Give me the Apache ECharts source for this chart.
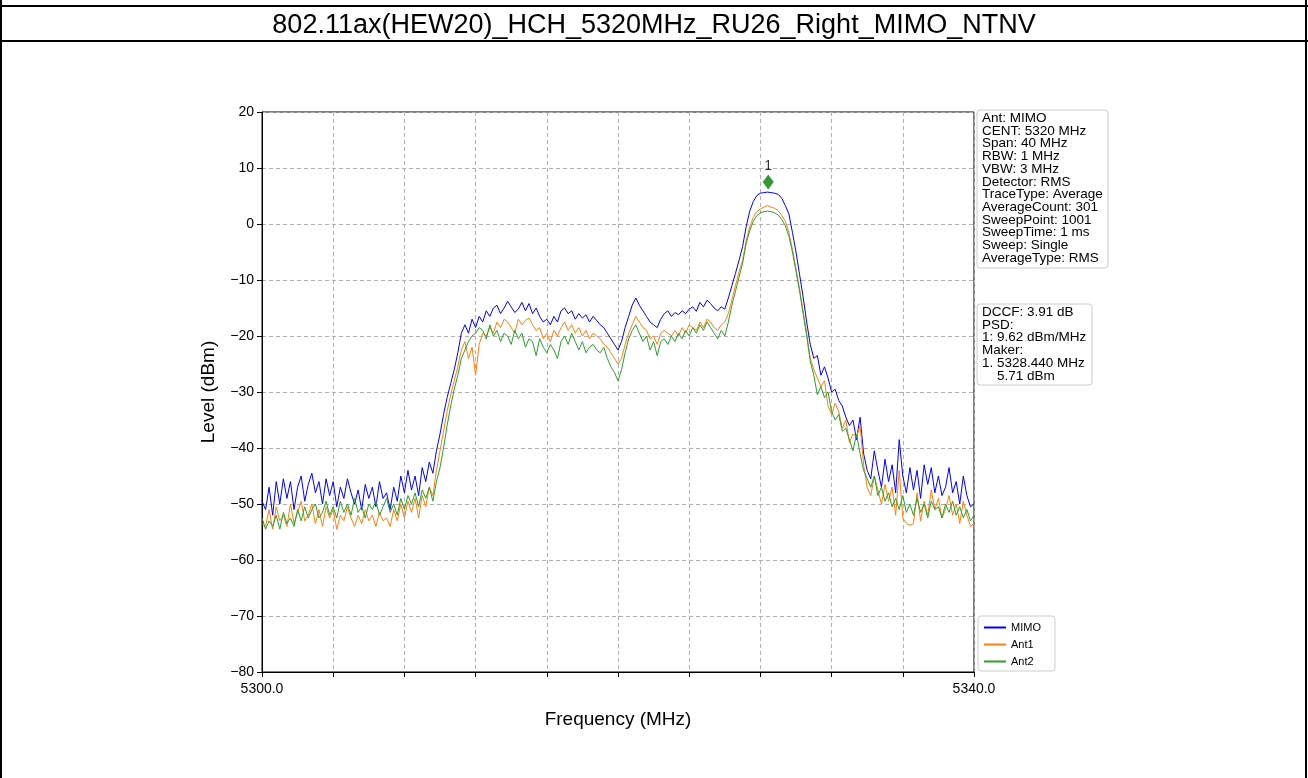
<!DOCTYPE html>
<html>
<head>
<meta charset="utf-8">
<script src="https://cdn.jsdelivr.net/npm/echarts@6/dist/echarts.min.js"></script>
<style>
html,body{margin:0;padding:0;background:#fff;}
#chart{width:1308px;height:778px;}
</style>
</head>
<body>
<div id="chart"></div>
<script>
const TITLE = '802.11ax(HEW20)_HCH_5320MHz_RU26_Right_MIMO_NTNV';
const F_START = 5300.0;
const F_STEP = 0.2;
const X_TICKS = [5300.0, 5340.0];
const Y_MIN = -80, Y_MAX = 20;

const mimo = [
-49.5,-51,-47,-52,-46,-50,-45.5,-49,-46,-51,
-47,-45,-49.5,-46.5,-44.5,-48,-46,-50,-45.5,-48.5,
-46,-50.5,-47,-49,-45.5,-48,-50,-47.5,-51,-46.5,
-49,-47,-50.5,-46,-49,-48,-51,-47,-49.5,-45,
-48,-44,-47.5,-45,-48.5,-43.5,-46,-42.5,-44.5,-40.5,
-37.5,-34,-31,-28.5,-26,-23,-19.5,-18,-19.5,-17,
-18.5,-16.5,-17.5,-15.5,-16.5,-15,-14.5,-16,-15,-13.8,
-14.8,-15.8,-15.2,-14,-15.5,-14.2,-16,-15,-16.5,-17.5,
-17,-18,-16.5,-17.5,-15.5,-15,-16,-15.5,-17,-16,
-16.8,-16.2,-17.5,-16.5,-17.2,-18,-18.5,-19.5,-20.5,-21.5,
-22.5,-21,-18.5,-16.5,-14.5,-13.2,-14.5,-15.5,-16.5,-17.5,
-18,-18.5,-17,-16,-15.5,-16.5,-15.8,-16.2,-15.5,-16,
-15.2,-14.8,-15.6,-14,-14.8,-13.6,-14.2,-15,-15.5,-14.8,
-15.2,-13.2,-11,-8.8,-6.5,-4,-0.5,2.3,4,5.1,
5.5,5.6,5.7,5.6,5.5,5.3,4.6,3.3,1.8,-1.5,
-5,-9,-13,-17.5,-21.5,-24,-23.5,-27,-25.5,-27.5,
-30,-29.5,-31.5,-32.5,-34.5,-36,-35,-38.5,-34.5,-41,
-44,-45.5,-40.5,-44,-47,-42,-46,-43,-48,-38.5,
-45,-48,-43.5,-47.5,-44,-49,-43,-46.5,-43.5,-48,
-45,-48.5,-47,-43.5,-48,-46,-50,-45,-48.5,-50.5,
-50
];

const ant1 = [
-53.5,-54,-51,-54.5,-50.5,-53,-52,-54,-50,-53.5,
-51.5,-49.5,-53,-52,-50,-53.5,-51,-54,-50.5,-52.5,
-51,-54.5,-52,-53,-50.5,-52.5,-54,-52,-53.5,-51,
-53,-52,-54,-51.5,-53,-52.5,-54,-51,-53,-50,
-52.5,-49.5,-51.5,-49,-52.5,-48.5,-50.5,-47,-48.5,-44,
-40.5,-37,-33.5,-30.5,-28,-25.5,-22.5,-21,-24,-22,
-27,-21.5,-19.5,-20,-18.5,-19.5,-17.5,-18.5,-17,-17.5,
-18.5,-19.5,-17,-18,-17.2,-16.8,-18,-19,-18.5,-20.5,
-19.5,-21,-19,-20,-18.5,-17.5,-19,-18,-19.5,-18.5,
-20,-19,-20.5,-19.5,-20,-20.5,-21.5,-22,-23,-24,
-25,-24,-21.5,-19.5,-18,-16.5,-17.5,-18.5,-19,-20.5,
-20,-21.5,-19.5,-19,-19.5,-20,-19,-20,-18.5,-19.5,
-18,-18.5,-19,-17.5,-18.5,-17,-17.5,-18.5,-19,-18,
-17.5,-16,-13.5,-11,-8.5,-6.5,-3,-0.5,1.2,2.2,
2.7,3,3.3,3,2.8,2.4,1.5,0.5,-1.5,-4.5,
-8,-11.5,-15.5,-19.5,-24,-26,-27.5,-29,-28,-32.5,
-34,-32,-33.5,-36.5,-35,-39,-37.5,-38,-36,-43,
-47,-48.5,-45,-47.5,-50,-46.5,-49.5,-47,-52,-44,
-52.5,-53.5,-53.8,-53.5,-48,-53,-49.5,-52,-47.5,-51,
-49,-52.5,-51,-48.5,-52,-50,-53.5,-49.5,-52,-54,
-53.5
];

const ant2 = [
-52.5,-54.5,-53,-54,-52,-54.5,-51.5,-53.5,-52.5,-54,
-51,-53,-50.5,-52.5,-51,-50,-52.5,-51.5,-49.5,-52,
-50.5,-52.5,-49.5,-51.5,-50,-52,-49,-51.5,-50.5,-52.5,
-50,-51,-49.5,-52,-50.5,-49,-51.5,-50,-52,-49,
-51,-48.5,-50,-48,-50.5,-47.5,-49,-47,-49.5,-46,
-43.5,-40,-36,-32.5,-29.5,-27,-24,-22.5,-21,-20,
-19.5,-18.5,-19,-20.5,-18,-20,-19,-21,-19.5,-20,
-21.5,-19,-20.5,-19.5,-22,-20.5,-21,-23.5,-20.5,-22,
-23,-21.5,-22.5,-24,-21,-20,-21.5,-19.5,-21,-22.5,
-21,-23,-22,-21.5,-22.5,-23,-22,-24,-25.5,-26.5,
-28,-26,-23,-20.5,-19,-18,-19.5,-21,-20,-22.5,
-21,-23.5,-21,-20.5,-21.5,-20,-21,-19.5,-20.5,-19,
-20,-18.5,-19.5,-18,-19,-17.5,-18.5,-19.5,-20.5,-19,
-20,-17.5,-14.5,-12,-9.5,-7,-3.5,-1.2,0.5,1.5,
2,2.2,2.3,2.2,2,1.6,0.8,-0.3,-2.2,-5,
-8.5,-12,-16,-20,-24.5,-27,-30.5,-29,-31,-30,
-33.5,-35,-34,-37,-36.5,-38.5,-40.5,-37.5,-41,-44,
-45.5,-47,-45,-48.5,-47,-49.5,-48,-50.5,-49,-51,
-48.5,-51.5,-50,-52,-49,-51.5,-50,-52.5,-49.5,-51,
-50.5,-52.5,-50,-51.5,-49.5,-52,-50.5,-52.5,-51,-53,
-52
];

const MARKER = [5328.44, 5.71];
const INFO_LINES = ['Ant: MIMO','CENT: 5320 MHz','Span: 40 MHz','RBW: 1 MHz','VBW: 3 MHz','Detector: RMS','TraceType: Average','AverageCount: 301','SweepPoint: 1001','SweepTime: 1 ms','Sweep: Single','AverageType: RMS'];
const RESULT_LINES = ['DCCF: 3.91 dB','PSD:','1: 9.62 dBm/MHz','Maker:','1. 5328.440 MHz','    5.71 dBm'];

const toPairs = arr => arr.map((v,i)=>[+(F_START + i*F_STEP).toFixed(2), v]);
const FONT = 'Liberation Sans, Arial, sans-serif';
const minus = s => String(s).replace('-', '\u2212');

const chart = echarts.init(document.getElementById('chart'), null, {renderer:'canvas'});
const option = {
  animation:false,
  backgroundColor:'#fff',
  textStyle:{fontFamily:FONT},
  grid:{left:262, right:334, top:112, bottom:106, show:true, borderColor:'#000', borderWidth:1, backgroundColor:'transparent'},
  xAxis:{
    type:'value', min:5300, max:5340, interval:4,
    name:'Frequency (MHz)', nameLocation:'middle', nameGap:38,
    nameTextStyle:{fontSize:19, color:'#000', fontFamily:FONT},
    axisLine:{show:true, onZero:false, lineStyle:{color:'#000', width:1}},
    axisTick:{show:true, length:5, lineStyle:{color:'#000'}},
    axisLabel:{fontSize:14, color:'#000', margin:10, fontFamily:FONT,
      formatter:v => X_TICKS.some(t=>Math.abs(t-v)<1e-6) ? v.toFixed(1) : '' ,
      showMinLabel:true, showMaxLabel:true},
    splitLine:{show:true, lineStyle:{color:'#b0b0b0', type:[4,3], width:1}}
  },
  yAxis:{
    type:'value', min:Y_MIN, max:Y_MAX, interval:10,
    name:'Level (dBm)', nameLocation:'middle', nameGap:44, nameRotate:90,
    nameTextStyle:{fontSize:19, color:'#000', fontFamily:FONT},
    axisLine:{show:true, onZero:false, lineStyle:{color:'#000', width:1}},
    axisTick:{show:true, length:5, lineStyle:{color:'#000'}},
    axisLabel:{fontSize:14, color:'#000', margin:8, fontFamily:FONT, formatter:v=>minus(v)},
    splitLine:{show:true, lineStyle:{color:'#b0b0b0', type:[4,3], width:1}}
  },
  legend:{
    data:['MIMO','Ant1','Ant2'], orient:'vertical', left:978, top:616,
    itemWidth:22, itemHeight:2, itemGap:6, icon:'rect',
    textStyle:{fontSize:11, color:'#000', fontFamily:FONT},
    borderColor:'#cccccc', borderWidth:1, borderRadius:3, padding:[6,14,4,6],
    backgroundColor:'#fff'
  },
  series:[
    {name:'MIMO', type:'line', data:toPairs(mimo), showSymbol:false, symbol:'none', lineStyle:{color:'#0000ff', width:1}, itemStyle:{color:'#0000ff'}},
    {name:'Ant1', type:'line', data:toPairs(ant1), showSymbol:false, symbol:'none', lineStyle:{color:'#ff7f0e', width:1}, itemStyle:{color:'#ff7f0e'}},
    {name:'Ant2', type:'line', data:toPairs(ant2), showSymbol:false, symbol:'none', lineStyle:{color:'#2ca02c', width:1}, itemStyle:{color:'#2ca02c'}},
    {name:'Marker', type:'scatter', data:[MARKER], symbol:'diamond', symbolSize:[11,15], symbolOffset:[0,-10],
      itemStyle:{color:'#007f00'},
      label:{show:true, formatter:'1', position:'top', distance:1, fontSize:14, color:'#000', fontFamily:FONT}, z:5}
  ],
  graphic:[
    {type:'line', shape:{x1:0,y1:6,x2:1308,y2:6}, style:{stroke:'#000', lineWidth:2}},
    {type:'line', shape:{x1:0,y1:41,x2:1308,y2:41}, style:{stroke:'#000', lineWidth:2}},
    {type:'line', shape:{x1:1,y1:0,x2:1,y2:778}, style:{stroke:'#000', lineWidth:2}},
    {type:'line', shape:{x1:1306,y1:0,x2:1306,y2:778}, style:{stroke:'#000', lineWidth:2}},
    {type:'text', left:'center', top:12, style:{text:TITLE, fontSize:27, fill:'#000', fontFamily:FONT}},
    {type:'rect', shape:{x:977, y:110, width:131, height:158, r:3}, style:{fill:'#fff', stroke:'#cccccc', lineWidth:1}},
    {type:'text', x:982, y:112, style:{text:INFO_LINES.join('\n'), fontSize:13.5, lineHeight:12.7, fill:'#000', fontFamily:FONT}},
    {type:'rect', shape:{x:977, y:304, width:115, height:81, r:3}, style:{fill:'#fff', stroke:'#cccccc', lineWidth:1}},
    {type:'text', x:982, y:306, style:{text:RESULT_LINES.join('\n'), fontSize:13.5, lineHeight:12.7, fill:'#000', fontFamily:FONT}}
  ]
};
chart.setOption(option);
</script>
</body>
</html>
